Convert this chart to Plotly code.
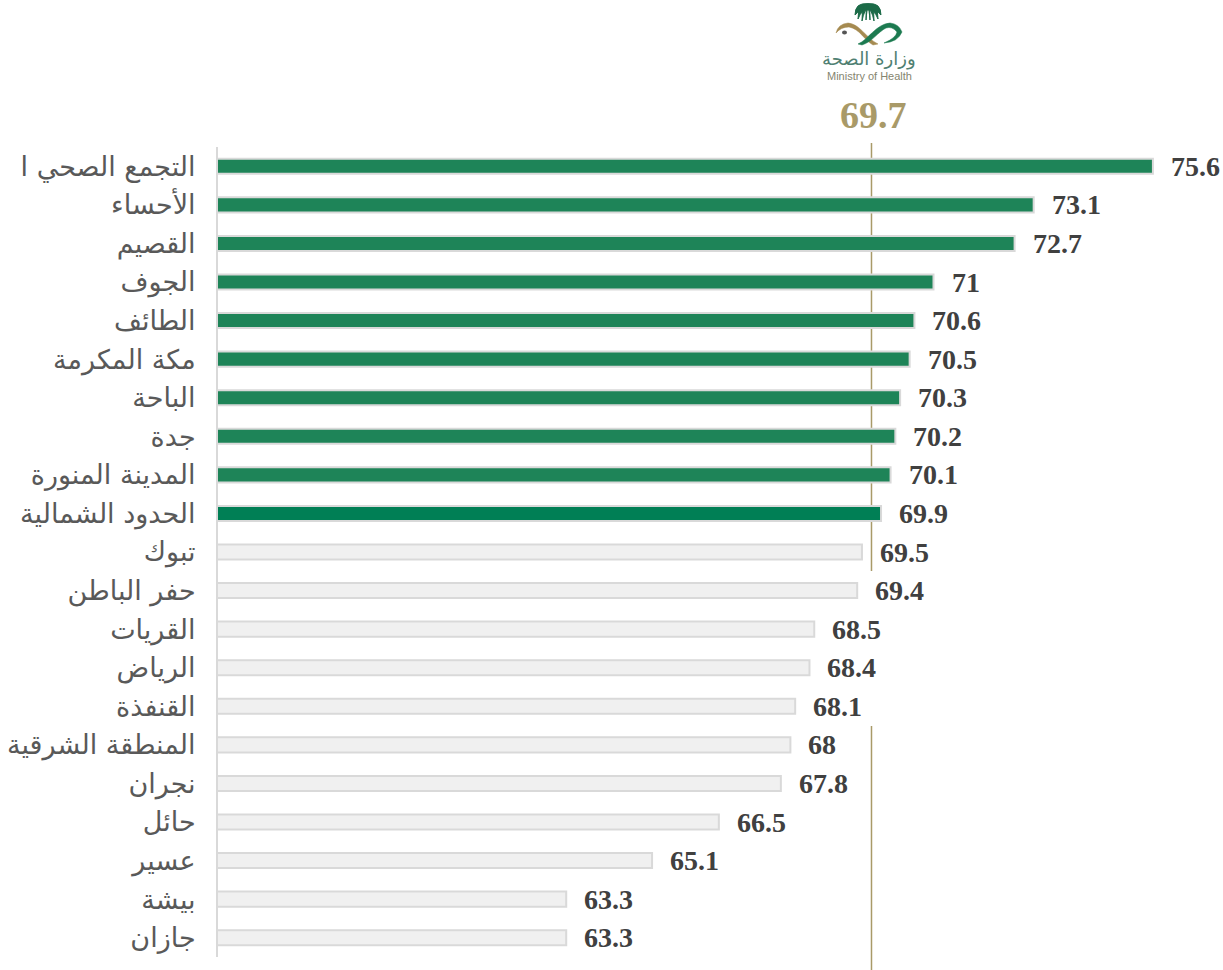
import plotly.graph_objects as go

# Regional scores, best to worst
regions = ["التجمع الصحي ا", "الأحساء", "القصيم", "الجوف", "الطائف", "مكة المكرمة", "الباحة",
           "جدة", "المدينة المنورة", "الحدود الشمالية", "تبوك", "حفر الباطن", "القريات", "الرياض",
           "القنفذة", "المنطقة الشرقية", "نجران", "حائل", "عسير", "بيشة", "جازان"]
scores = [75.6, 73.1, 72.7, 71, 70.6, 70.5, 70.3, 70.2, 70.1, 69.9, 69.5, 69.4,
          68.5, 68.4, 68.1, 68, 67.8, 66.5, 65.1, 63.3, 63.3]
national_average = 69.7

GREEN = "#1e8458"
TOP_GREEN = "#007f55"
GREY_FILL = "#f0f0f0"
EDGE = "#d9d9d9"
GOLD = "#a99a68"
W, H = 1223, 970
L, T, B = 218, 147, 957


def px(x):
    return (x - L) / (W - L)


def py(y):
    return (B - y) / (B - T)


def path(*cmds):
    # Builds an SVG path in paper units from (letter, x, y, x, y, ...) tuples
    out = []
    for c in cmds:
        pts = c[1:]
        coords = " ".join(f"{px(pts[i]):.5f},{py(pts[i + 1]):.5f}" for i in range(0, len(pts), 2))
        out.append(f"{c[0]} {coords}")
    return " ".join(out)


colors = [GREEN if s > national_average else GREY_FILL for s in scores]
colors[regions.index("الحدود الشمالية")] = TOP_GREEN

fig = go.Figure(go.Bar(
    x=scores, y=regions, orientation="h", width=0.39,
    marker=dict(color=colors, line=dict(color=EDGE, width=2)),
    hoverinfo="x+y",
))

# Value labels to the right of each bar
annotations = [dict(x=s, y=r, text=str(s), xref="x", yref="y", xanchor="left", yanchor="middle",
                    xshift=16, yshift=0, showarrow=False,
                    font=dict(family="Liberation Serif", size=28, color="#404040", weight="bold"))
               for r, s in zip(regions, scores)]

annotations.append(dict(x=national_average, y=1, yref="paper", xref="x", yanchor="bottom", xshift=2, yshift=9,
                        text=str(national_average), showarrow=False,
                        font=dict(family="Liberation Serif", size=38, color=GOLD, weight="bold")))

# Ministry wordmark
annotations.append(dict(x=px(869), y=py(59), xref="paper", yref="paper", xanchor="center", yanchor="middle",
                        text="وزارة الصحة", showarrow=False,
                        font=dict(family="DejaVu Sans", size=18, color="#4f7f72")))
annotations.append(dict(x=px(869), y=py(76), xref="paper", yref="paper", xanchor="center", yanchor="middle",
                        text="Ministry of Health", showarrow=False,
                        font=dict(family="Liberation Sans", size=11, color="#85856f")))

# Average reference line, drawn behind the bars and broken around the middle labels
for top, bottom in [(143, 571), (726, 970)]:
    fig.add_shape(type="line", layer="below", xref="x", yref="paper",
                  x0=national_average, x1=national_average, y0=py(top), y1=py(bottom),
                  line=dict(color=GOLD, width=1.5))

# Emblem: palm crown and crossed swords
shapes = []
for dx, tip in [(-13, 15), (-10, 19), (-6, 21), (-2, 20), (2, 20), (6, 21), (10, 19), (13, 15)]:
    shapes.append(dict(type="path", xref="paper", yref="paper", fillcolor="#1c6b48",
                       line=dict(color="#1c6b48", width=1),
                       path=path(("M", 868, 4), ("Q", 868 + dx, 2, 868 + dx, tip),
                                 ("Q", 868 + dx * 0.6, 9, 868, 9), ("Z",))))
shapes.append(dict(type="path", xref="paper", yref="paper", fillcolor="#a58a50",
                   line=dict(color="#a58a50", width=0.5),
                   path=path(("M", 878, 44), ("C", 866, 38, 860, 24, 848, 23), ("Q", 838, 24, 836, 33),
                             ("Q", 841, 27, 849, 27), ("C", 860, 29, 864, 40, 873, 45), ("Z",))))
shapes.append(dict(type="path", xref="paper", yref="paper", fillcolor="#1c7a50",
                   line=dict(color="#1c7a50", width=0.5),
                   path=path(("M", 858, 44), ("C", 868, 40, 876, 24, 890, 23), ("Q", 899, 24, 902, 32),
                             ("Q", 898, 42, 884, 43), ("Q", 896, 38, 897, 32), ("Q", 892, 26, 886, 28),
                             ("C", 878, 32, 872, 42, 862, 45), ("Z",))))
shapes.append(dict(type="circle", xref="paper", yref="paper", fillcolor="#555555", line=dict(width=0),
                   x0=px(842), x1=px(847), y0=py(34.5), y1=py(30.5)))
for s in shapes:
    fig.add_shape(**s)

fig.update_layout(
    width=W, height=H, autosize=False,
    margin=dict(l=L, r=0, t=T, b=H - B, pad=0),
    paper_bgcolor="white", plot_bgcolor="white",
    showlegend=False,
    annotations=annotations,
    xaxis=dict(range=[56, 56 + (W - L) / 47.7], visible=False),
    yaxis=dict(autorange=False, range=[20.5, -0.5], type="category", categoryorder="array", categoryarray=regions,
               ticks="outside", ticklen=15, tickcolor="rgba(0,0,0,0)", showgrid=False,
               showline=True, linecolor=EDGE, linewidth=2, zeroline=False,
               tickfont=dict(family="DejaVu Sans", size=27, color="#595959")),
)
fig.write_html("out.html")
